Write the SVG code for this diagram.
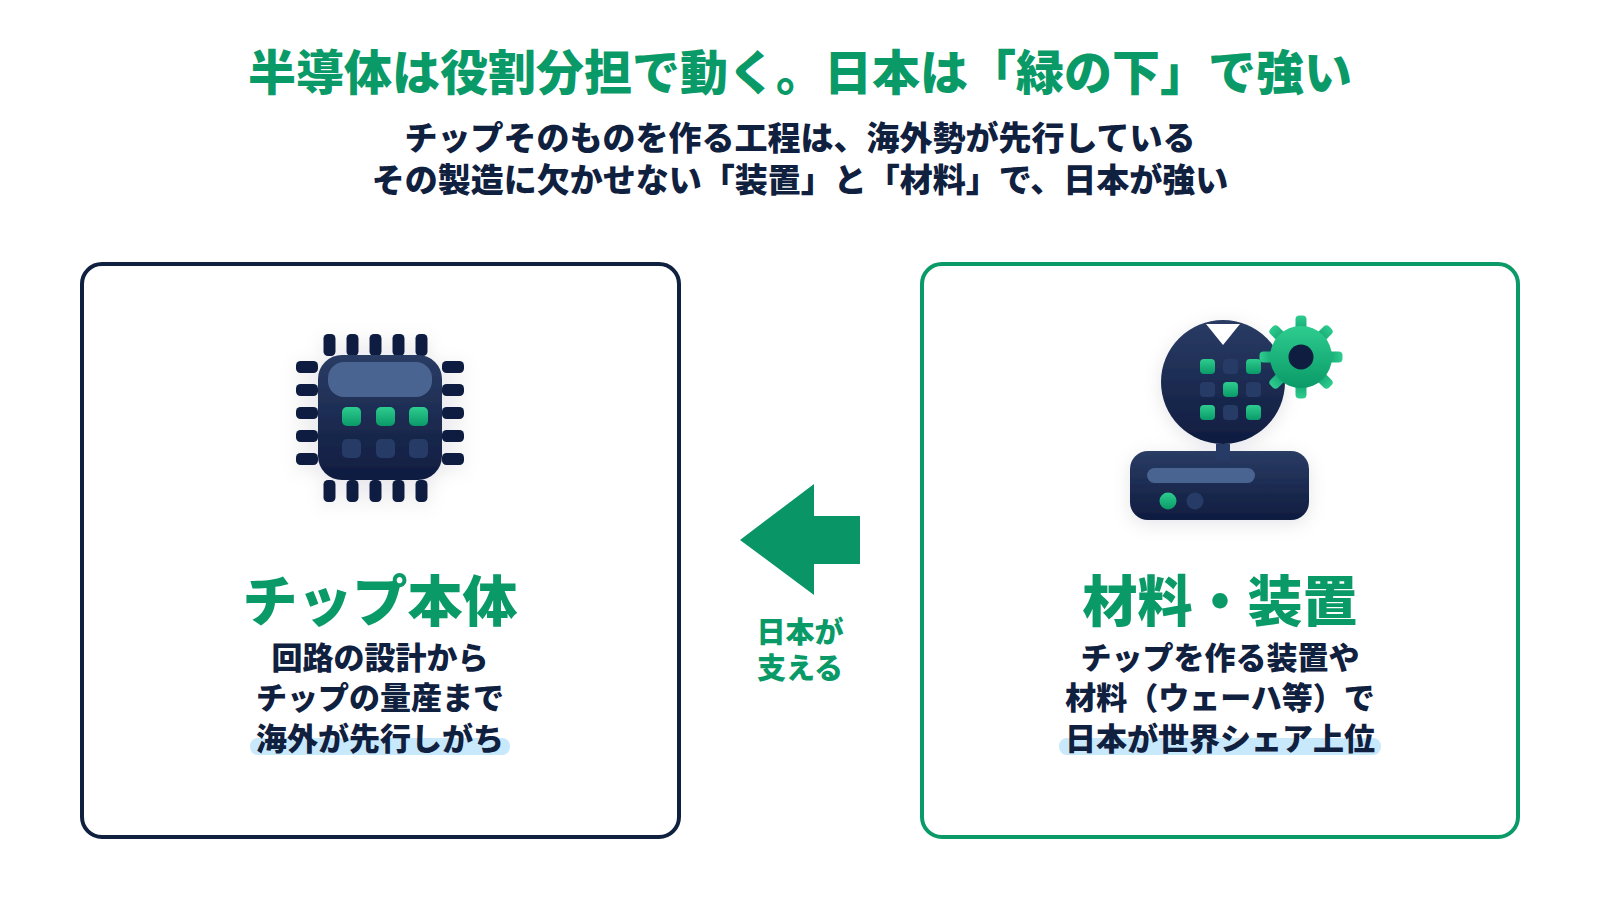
<svg xmlns="http://www.w3.org/2000/svg" width="1600" height="900" viewBox="0 0 1600 900">
<style>
text{font-family:"Noto Sans CJK JP","Noto Sans",sans-serif;text-anchor:middle}
.title{font-size:48px;font-weight:900;fill:#0a9a68}
.sub{font-size:33px;font-weight:900;fill:#10203f}
.head{font-size:55px;font-weight:900;fill:#0a9a68}
.body{font-size:31px;font-weight:900;fill:#10203f}
.lab{font-size:29px;font-weight:900;fill:#0a9a68}
.card{fill:#fff;stroke-width:4}
.pin{fill:#0f1e40}
.hl{fill:#c8e8fb}
.off{fill:#263b66}
.on{fill:url(#g)}
.bar{fill:#4a6491}
</style>
<defs>
<linearGradient id="d" x1="0" y1="0" x2="0" y2="1"><stop offset="0" stop-color="#2a3c64"/><stop offset="1" stop-color="#0f1c3f"/></linearGradient>
<linearGradient id="g" x1="0" y1="0" x2="0" y2="1"><stop offset="0" stop-color="#2ecc8f"/><stop offset="1" stop-color="#0a9a68"/></linearGradient>
<filter id="s" x="-30%" y="-30%" width="160%" height="160%"><feDropShadow dx="0" dy="4" stdDeviation="9" flood-color="#0f1c3f" flood-opacity="0.1"/></filter>
</defs>
<rect width="1600" height="900" fill="#fff"/>
<g id="header">
<text class="title" x="800" y="90">半導体は役割分担で動く。日本は「緑の下」で強い</text>
<text class="sub" x="800" y="150">チップそのものを作る工程は、海外勢が先行している</text>
<text class="sub" x="800" y="192">その製造に欠かせない「装置」と「材料」で、日本が強い</text>
</g>
<g id="node-chip">
<rect class="card" x="82" y="264" width="597" height="573" rx="20" stroke="#10203f"/>
<g filter="url(#s)">
<g class="pin">
<rect x="323.500" y="334" width="12" height="22" rx="4.500"/><rect x="346.500" y="334" width="12" height="22" rx="4.500"/><rect x="369.500" y="334" width="12" height="22" rx="4.500"/><rect x="392.500" y="334" width="12" height="22" rx="4.500"/><rect x="415.500" y="334" width="12" height="22" rx="4.500"/>
<rect x="323.500" y="480" width="12" height="22" rx="4.500"/><rect x="346.500" y="480" width="12" height="22" rx="4.500"/><rect x="369.500" y="480" width="12" height="22" rx="4.500"/><rect x="392.500" y="480" width="12" height="22" rx="4.500"/><rect x="415.500" y="480" width="12" height="22" rx="4.500"/>
<rect x="296" y="361" width="22" height="12" rx="4.500"/><rect x="296" y="384" width="22" height="12" rx="4.500"/><rect x="296" y="407" width="22" height="12" rx="4.500"/><rect x="296" y="430" width="22" height="12" rx="4.500"/><rect x="296" y="453" width="22" height="12" rx="4.500"/>
<rect x="442" y="361" width="22" height="12" rx="4.500"/><rect x="442" y="384" width="22" height="12" rx="4.500"/><rect x="442" y="407" width="22" height="12" rx="4.500"/><rect x="442" y="430" width="22" height="12" rx="4.500"/><rect x="442" y="453" width="22" height="12" rx="4.500"/>
</g>
<rect x="318" y="355" width="124" height="125" rx="24" fill="url(#d)"/>
</g>
<rect class="bar" x="328" y="362" width="104" height="35" rx="16"/>
<rect class="on" x="342" y="407" width="19" height="19" rx="5"/><rect class="on" x="376" y="407" width="19" height="19" rx="5"/><rect class="on" x="409" y="407" width="19" height="19" rx="5"/>
<rect class="off" x="342" y="439" width="19" height="19" rx="5"/><rect class="off" x="376" y="439" width="19" height="19" rx="5"/><rect class="off" x="409" y="439" width="19" height="19" rx="5"/>
<text class="head" x="380" y="621">チップ本体</text>
<text class="body" x="380" y="669">回路の設計から</text>
<text class="body" x="380" y="709">チップの量産まで</text>
<rect class="hl" x="250" y="738" width="260" height="17" rx="8"/>
<text class="body" x="380" y="750">海外が先行しがち</text>
</g>
<g id="node-material">
<rect class="card" x="922" y="264" width="596" height="573" rx="20" stroke="#0a9a68"/>
<g filter="url(#s)">
<circle cx="1223" cy="382" r="62" fill="url(#d)"/>
<rect x="1130" y="451" width="179" height="69" rx="18" fill="url(#d)"/>
</g>
<rect class="off" x="1216" y="444" width="14" height="16"/>
<polygon points="1206,324 1240,324 1223,345" fill="#fff"/>
<rect class="on" x="1200" y="359" width="15" height="15" rx="4"/><rect class="off" x="1223" y="359" width="15" height="15" rx="4"/><rect class="on" x="1246" y="359" width="15" height="15" rx="4"/>
<rect class="off" x="1200" y="382" width="15" height="15" rx="4"/><rect class="on" x="1223" y="382" width="15" height="15" rx="4"/><rect class="off" x="1246" y="382" width="15" height="15" rx="4"/>
<rect class="on" x="1200" y="405" width="15" height="15" rx="4"/><rect class="off" x="1223" y="405" width="15" height="15" rx="4"/><rect class="on" x="1246" y="405" width="15" height="15" rx="4"/>
<rect class="bar" x="1147" y="468" width="108" height="15" rx="7.500"/>
<circle class="on" cx="1168" cy="501" r="8.500"/><circle class="off" cx="1195" cy="501" r="8.500"/>
<g id="gear">
<g class="on">
<rect x="1295.500" y="315.500" width="11" height="20" rx="4"/>
<rect x="1295.500" y="315.500" width="11" height="20" rx="4" transform="rotate(45 1301 357)"/>
<rect x="1295.500" y="315.500" width="11" height="20" rx="4" transform="rotate(90 1301 357)"/>
<rect x="1295.500" y="315.500" width="11" height="20" rx="4" transform="rotate(135 1301 357)"/>
<rect x="1295.500" y="315.500" width="11" height="20" rx="4" transform="rotate(180 1301 357)"/>
<rect x="1295.500" y="315.500" width="11" height="20" rx="4" transform="rotate(225 1301 357)"/>
<rect x="1295.500" y="315.500" width="11" height="20" rx="4" transform="rotate(270 1301 357)"/>
<rect x="1295.500" y="315.500" width="11" height="20" rx="4" transform="rotate(315 1301 357)"/>
</g>
<circle class="on" cx="1301" cy="357" r="31"/>
</g>
<circle cx="1301" cy="357" r="12.500" fill="#0f1e40"/>
<text class="head" x="1220" y="621">材料・装置</text>
<text class="body" x="1220" y="669">チップを作る装置や</text>
<text class="body" x="1220" y="709">材料（ウェーハ等）で</text>
<rect class="hl" x="1059" y="738" width="322" height="17" rx="8"/>
<text class="body" x="1220" y="750">日本が世界シェア上位</text>
</g>
<g id="connectors">
<polygon points="740,540 814,484 814,516 860,516 860,564 814,564 814,595" fill="#099566"/>
<text class="lab" x="800" y="643">日本が</text>
<text class="lab" x="800" y="679">支える</text>
</g>
</svg>
